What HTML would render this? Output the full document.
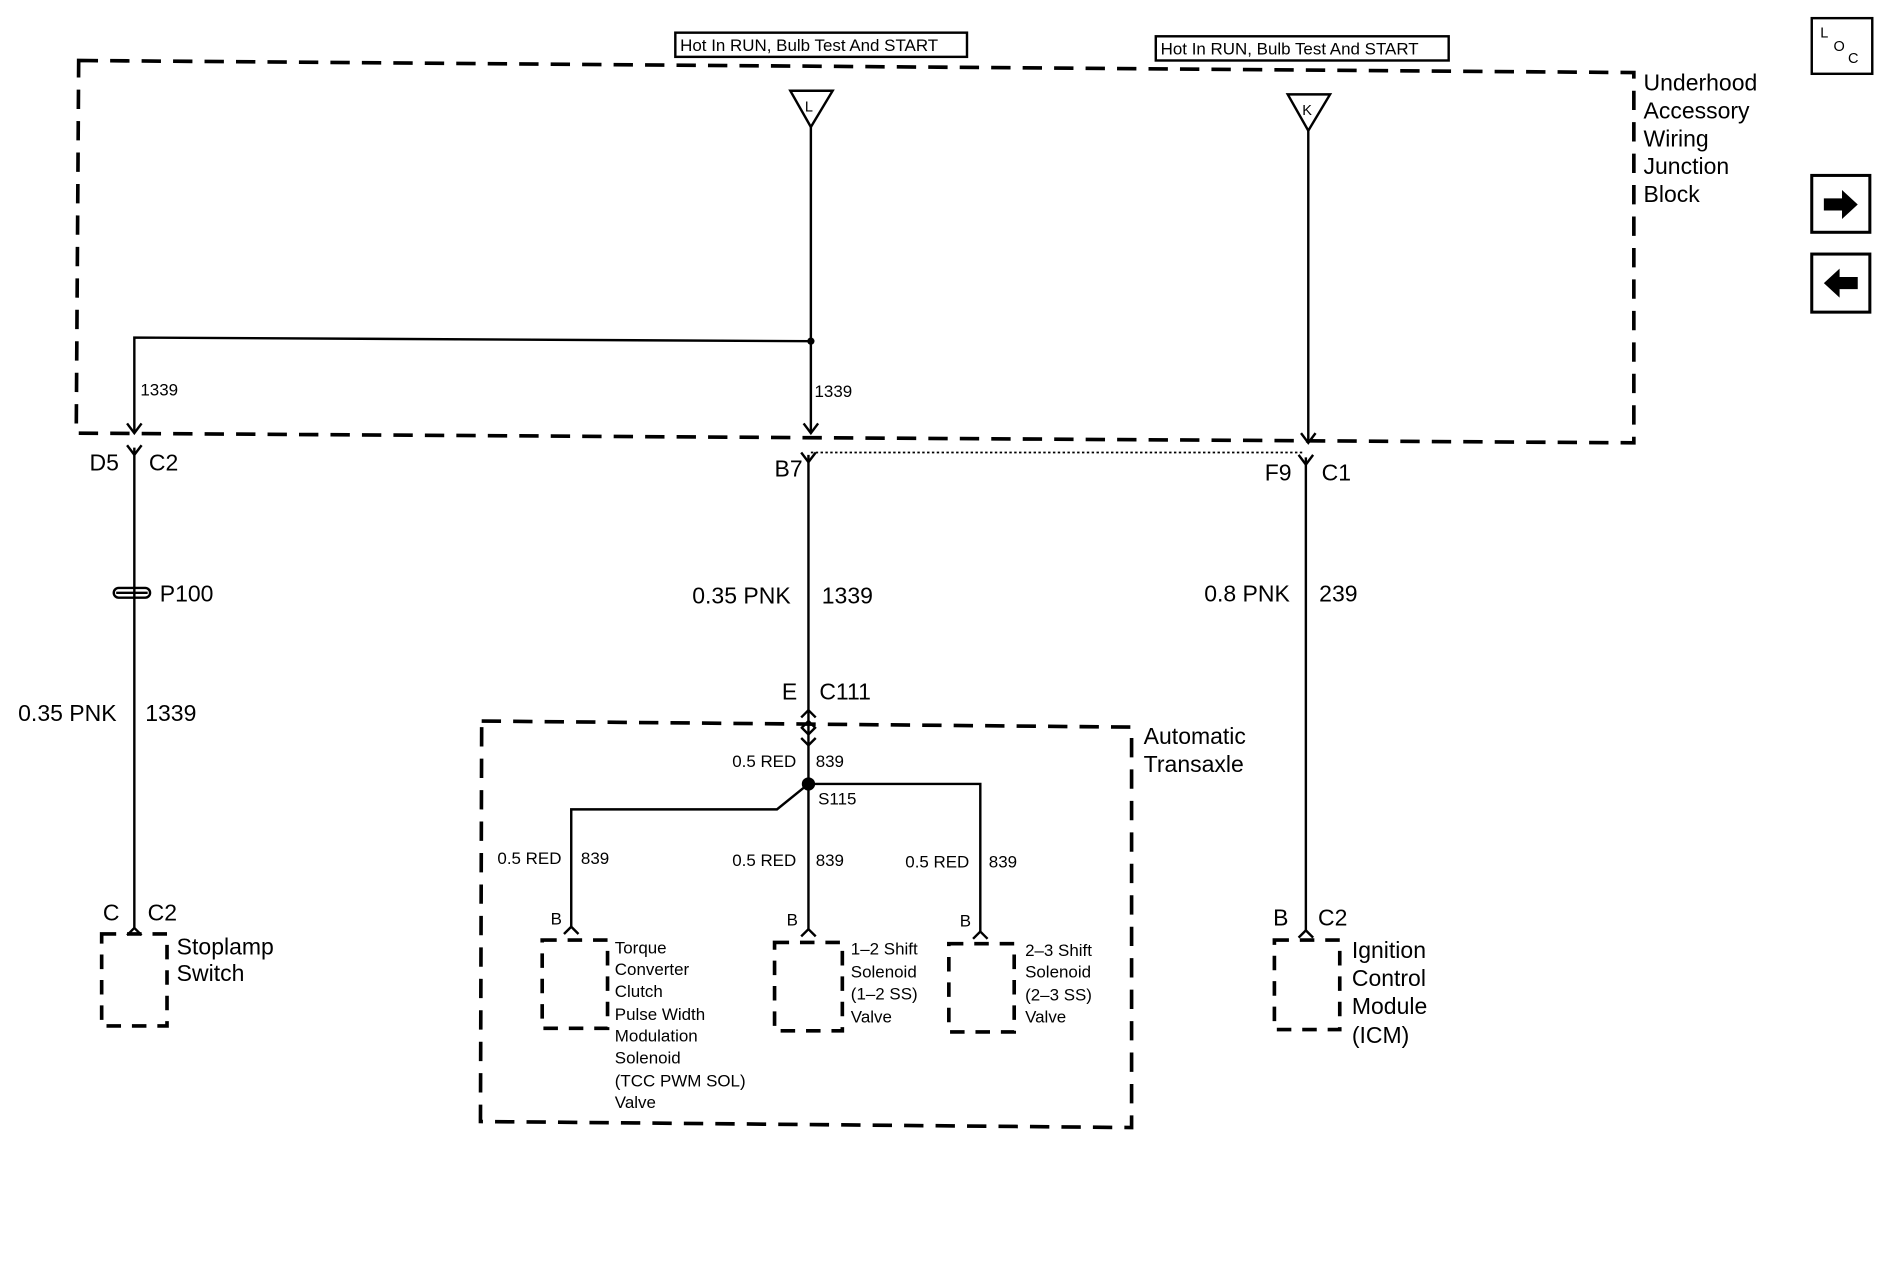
<!DOCTYPE html>
<html><head><meta charset="utf-8">
<style>
html,body{margin:0;padding:0;background:#fff;}
svg{display:block;}
text{font-family:"Liberation Sans",Arial,sans-serif;fill:#000;}
</style></head>
<body>
<svg width="1888" height="1280" viewBox="0 0 1560 1058" preserveAspectRatio="none" xmlns="http://www.w3.org/2000/svg">
<g fill="none" stroke="#000">
 <!-- label boxes -->
 <rect x="558" y="27" width="241" height="20" stroke-width="2"/>
 <rect x="955" y="30" width="242" height="20" stroke-width="2"/>
 <!-- big dashed box -->
 <polygon points="65,50 1350,60 1350,366 63,358" stroke-width="3" stroke-dasharray="16,10"/>
 <!-- automatic transaxle box -->
 <polygon points="398,596 935,601 935,932 397,927" stroke-width="3" stroke-dasharray="16,10"/>
 <!-- component boxes -->
 <rect x="84" y="772" width="54" height="76" stroke-width="3" stroke-dasharray="12,9"/>
 <rect x="448" y="777" width="54" height="73" stroke-width="3" stroke-dasharray="12,9"/>
 <rect x="640" y="779" width="56" height="73" stroke-width="3" stroke-dasharray="12,9"/>
 <rect x="784" y="780" width="54" height="73" stroke-width="3" stroke-dasharray="12,9"/>
 <rect x="1053" y="777" width="54" height="74" stroke-width="3" stroke-dasharray="12,9"/>
 <!-- side boxes -->
 <rect x="1497" y="15" width="50" height="46" stroke-width="2"/>
 <rect x="1497" y="145" width="48" height="47" stroke-width="2.5"/>
 <rect x="1497" y="210" width="48" height="48" stroke-width="2.5"/>
 <!-- triangles -->
 <polygon points="653,75 688,75 670,105" stroke-width="2"/>
 <polygon points="1064,78 1099,78 1081,108" stroke-width="2"/>
 <!-- wires -->
 <g stroke-width="2">
  <path d="M670,105 V358"/>
  <path d="M670,282 L111,279 V358"/>
  <path d="M1081,108 V366"/>
  <path d="M111,370 V768"/>
  <path d="M668,376 V588"/>
  <path d="M1079,378 V770"/>
  <path d="M668,615 V768"/>
  <path d="M668,648 H810 V770"/>
  <path d="M668,648 L642,669 H472 V766"/>
  <!-- arrows into bottom of top box -->
  <path d="M105,350 L111,358 L117,350"/>
  <path d="M664,350 L670,358 L676,350"/>
  <path d="M1075,358 L1081,366 L1087,358"/>
  <!-- Y connectors -->
  <path d="M105,368 L111,376 L117,368"/>
  <path d="M662,374 L668,382 L674,374"/>
  <path d="M1073,376 L1079,384 L1085,376"/>
  <!-- ^ connectors -->
  <path d="M105,773 L111,767 L117,773"/>
  <path d="M466,772 L472,766 L478,772"/>
  <path d="M662,774 L668,768 L674,774"/>
  <path d="M804,776 L810,770 L816,776"/>
  <path d="M1073,775 L1079,769 L1085,775"/>
  <!-- C111 double -->
  <path d="M662,593 L668,587 L674,593"/>
  <path d="M662,602 L668,596 L674,602"/>
  <path d="M662,601 L668,607 L674,601"/>
  <path d="M662,610 L668,616 L674,610"/>
  <path d="M668,587 V616"/>
 </g>
 <path d="M670,374 H1078" stroke-width="1.5" stroke-dasharray="2,2"/>
 <!-- P100 -->
 <rect x="94" y="486" width="30" height="8" rx="4" stroke-width="2"/>
 <path d="M96,490 H122" stroke-width="2"/>
</g>
<circle cx="670" cy="282" r="3" fill="#000"/>
<circle cx="668" cy="648" r="5.5" fill="#000"/>
<!-- arrow glyphs -->
<polygon points="1507,164 1522,164 1522,157 1535,169 1522,181 1522,174 1507,174" fill="#000"/>
<polygon points="1535,229 1520,229 1520,222 1507,234 1520,246 1520,239 1535,239" fill="#000"/>

<g font-size="14">
 <text x="562" y="42">Hot In RUN, Bulb Test And START</text>
 <text x="959" y="45">Hot In RUN, Bulb Test And START</text>
 <text x="665" y="92" font-size="12">L</text>
 <text x="1076" y="95" font-size="12">K</text>
 <text x="116" y="327">1339</text>
 <text x="673" y="328">1339</text>
 <text x="605" y="634">0.5 RED</text><text x="674" y="634">839</text>
 <text x="676" y="665">S115</text>
 <text x="411" y="714">0.5 RED</text><text x="480" y="714">839</text>
 <text x="605" y="716">0.5 RED</text><text x="674" y="716">839</text>
 <text x="748" y="717">0.5 RED</text><text x="817" y="717">839</text>
 <text x="455" y="764">B</text><text x="650" y="765">B</text><text x="793" y="766">B</text>
 <text x="508" y="788">Torque</text>
 <text x="508" y="806">Converter</text>
 <text x="508" y="824">Clutch</text>
 <text x="508" y="843">Pulse Width</text>
 <text x="508" y="861">Modulation</text>
 <text x="508" y="879">Solenoid</text>
 <text x="508" y="898">(TCC PWM SOL)</text>
 <text x="508" y="916">Valve</text>
 <text x="703" y="789">1–2 Shift</text>
 <text x="703" y="808">Solenoid</text>
 <text x="703" y="826">(1–2 SS)</text>
 <text x="703" y="845">Valve</text>
 <text x="847" y="790">2–3 Shift</text>
 <text x="847" y="808">Solenoid</text>
 <text x="847" y="827">(2–3 SS)</text>
 <text x="847" y="845">Valve</text>
 <text x="1504" y="31" font-size="12">L</text>
 <text x="1515" y="42" font-size="12">O</text>
 <text x="1527" y="52" font-size="12">C</text>
</g>
<g font-size="19">
 <text x="1358" y="75">Underhood</text>
 <text x="1358" y="98">Accessory</text>
 <text x="1358" y="121">Wiring</text>
 <text x="1358" y="144">Junction</text>
 <text x="1358" y="167">Block</text>
 <text x="74" y="389">D5</text><text x="123" y="389">C2</text>
 <text x="640" y="394">B7</text>
 <text x="1045" y="397">F9</text><text x="1092" y="397">C1</text>
 <text x="132" y="497">P100</text>
 <text x="572" y="499">0.35 PNK</text><text x="679" y="499">1339</text>
 <text x="995" y="497">0.8 PNK</text><text x="1090" y="497">239</text>
 <text x="15" y="596">0.35 PNK</text><text x="120" y="596">1339</text>
 <text x="646" y="578">E</text><text x="677" y="578">C111</text>
 <text x="945" y="615">Automatic</text>
 <text x="945" y="638">Transaxle</text>
 <text x="85" y="761">C</text><text x="122" y="761">C2</text>
 <text x="146" y="789">Stoplamp</text>
 <text x="146" y="811">Switch</text>
 <text x="1052" y="765">B</text><text x="1089" y="765">C2</text>
 <text x="1117" y="792">Ignition</text>
 <text x="1117" y="815">Control</text>
 <text x="1117" y="838">Module</text>
 <text x="1117" y="862">(ICM)</text>
</g>
</svg>
</body></html>
